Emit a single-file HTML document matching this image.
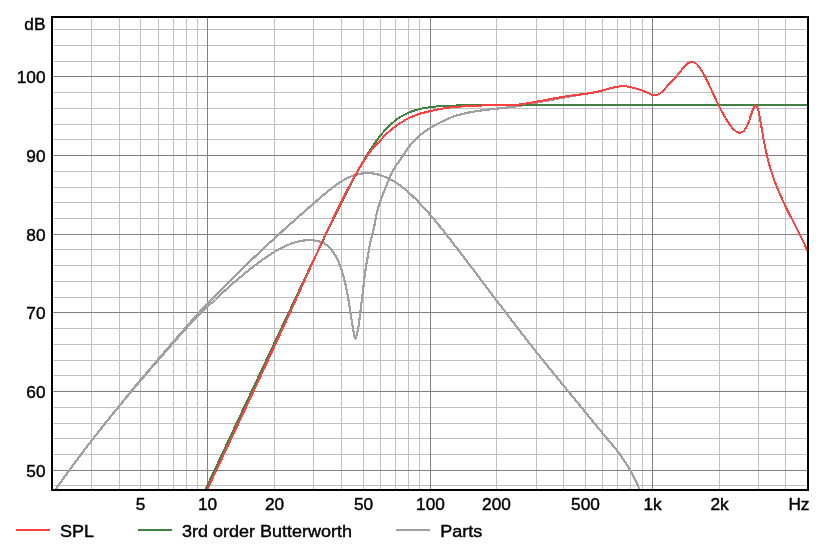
<!DOCTYPE html>
<html lang="en">
<head>
<meta charset="utf-8">
<title>SPL</title>
<style>
html,body{margin:0;padding:0;background:#fff;}
body{width:825px;height:557px;overflow:hidden;}
svg{display:block;}
text{font-family:"Liberation Sans",Arial,Helvetica,sans-serif;font-size:18px;fill:#000;stroke:#000;stroke-width:0.45px;}
</style>
</head>
<body>
<svg width="825" height="557" viewBox="0 0 825 557">
<rect x="0" y="0" width="825" height="557" fill="#fff"/>
<g shape-rendering="crispEdges">
<rect x="91" y="18" width="1" height="471" fill="#c0c0c0"/>
<rect x="119" y="18" width="1" height="471" fill="#c0c0c0"/>
<rect x="140" y="18" width="1" height="471" fill="#c0c0c0"/>
<rect x="158" y="18" width="1" height="471" fill="#c0c0c0"/>
<rect x="173" y="18" width="1" height="471" fill="#c0c0c0"/>
<rect x="186" y="18" width="1" height="471" fill="#c0c0c0"/>
<rect x="197" y="18" width="1" height="471" fill="#c0c0c0"/>
<rect x="274" y="18" width="1" height="471" fill="#c0c0c0"/>
<rect x="313" y="18" width="1" height="471" fill="#c0c0c0"/>
<rect x="341" y="18" width="1" height="471" fill="#c0c0c0"/>
<rect x="363" y="18" width="1" height="471" fill="#c0c0c0"/>
<rect x="380" y="18" width="1" height="471" fill="#c0c0c0"/>
<rect x="395" y="18" width="1" height="471" fill="#c0c0c0"/>
<rect x="408" y="18" width="1" height="471" fill="#c0c0c0"/>
<rect x="419" y="18" width="1" height="471" fill="#c0c0c0"/>
<rect x="496" y="18" width="1" height="471" fill="#c0c0c0"/>
<rect x="536" y="18" width="1" height="471" fill="#c0c0c0"/>
<rect x="563" y="18" width="1" height="471" fill="#c0c0c0"/>
<rect x="585" y="18" width="1" height="471" fill="#c0c0c0"/>
<rect x="602" y="18" width="1" height="471" fill="#c0c0c0"/>
<rect x="617" y="18" width="1" height="471" fill="#c0c0c0"/>
<rect x="630" y="18" width="1" height="471" fill="#c0c0c0"/>
<rect x="642" y="18" width="1" height="471" fill="#c0c0c0"/>
<rect x="719" y="18" width="1" height="471" fill="#c0c0c0"/>
<rect x="758" y="18" width="1" height="471" fill="#c0c0c0"/>
<rect x="785" y="18" width="1" height="471" fill="#c0c0c0"/>
<rect x="53" y="485" width="754" height="1" fill="#c0c0c0"/>
<rect x="53" y="454" width="754" height="1" fill="#c0c0c0"/>
<rect x="53" y="438" width="754" height="1" fill="#c0c0c0"/>
<rect x="53" y="423" width="754" height="1" fill="#c0c0c0"/>
<rect x="53" y="407" width="754" height="1" fill="#c0c0c0"/>
<rect x="53" y="375" width="754" height="1" fill="#c0c0c0"/>
<rect x="53" y="360" width="754" height="1" fill="#c0c0c0"/>
<rect x="53" y="344" width="754" height="1" fill="#c0c0c0"/>
<rect x="53" y="328" width="754" height="1" fill="#c0c0c0"/>
<rect x="53" y="297" width="754" height="1" fill="#c0c0c0"/>
<rect x="53" y="281" width="754" height="1" fill="#c0c0c0"/>
<rect x="53" y="265" width="754" height="1" fill="#c0c0c0"/>
<rect x="53" y="249" width="754" height="1" fill="#c0c0c0"/>
<rect x="53" y="218" width="754" height="1" fill="#c0c0c0"/>
<rect x="53" y="202" width="754" height="1" fill="#c0c0c0"/>
<rect x="53" y="187" width="754" height="1" fill="#c0c0c0"/>
<rect x="53" y="171" width="754" height="1" fill="#c0c0c0"/>
<rect x="53" y="139" width="754" height="1" fill="#c0c0c0"/>
<rect x="53" y="124" width="754" height="1" fill="#c0c0c0"/>
<rect x="53" y="108" width="754" height="1" fill="#c0c0c0"/>
<rect x="53" y="92" width="754" height="1" fill="#c0c0c0"/>
<rect x="53" y="61" width="754" height="1" fill="#c0c0c0"/>
<rect x="53" y="45" width="754" height="1" fill="#c0c0c0"/>
<rect x="53" y="29" width="754" height="1" fill="#c0c0c0"/>
<rect x="207" y="18" width="1" height="471" fill="#808080"/>
<rect x="430" y="18" width="1" height="471" fill="#808080"/>
<rect x="652" y="18" width="1" height="471" fill="#808080"/>
<rect x="53" y="470" width="754" height="1" fill="#808080"/>
<rect x="53" y="391" width="754" height="1" fill="#808080"/>
<rect x="53" y="312" width="754" height="1" fill="#808080"/>
<rect x="53" y="234" width="754" height="1" fill="#808080"/>
<rect x="53" y="155" width="754" height="1" fill="#808080"/>
<rect x="53" y="76" width="754" height="1" fill="#808080"/>
</g>
<svg x="52" y="17" width="756" height="473" viewBox="52 17 756 473" overflow="hidden" shape-rendering="crispEdges">
<polyline points="52.0,494.5 53.0,493.1 54.0,491.7 55.0,490.3 56.0,488.8 57.0,487.4 58.0,486.0 59.0,484.6 60.0,483.2 61.0,481.8 62.0,480.4 63.0,479.0 64.0,477.6 65.0,476.3 66.0,474.9 67.0,473.5 68.0,472.1 69.0,470.8 70.0,469.4 71.0,468.0 72.0,466.7 73.0,465.3 74.0,464.0 75.0,462.6 76.0,461.3 77.0,459.9 78.0,458.6 79.0,457.3 80.0,455.9 81.0,454.6 82.0,453.2 83.0,451.9 84.0,450.6 85.0,449.3 86.0,447.9 87.0,446.6 88.0,445.3 89.0,444.0 90.0,442.7 91.0,441.4 92.0,440.1 93.0,438.8 94.0,437.5 95.0,436.3 96.0,435.0 97.0,433.7 98.0,432.4 99.0,431.1 100.0,429.9 101.0,428.6 102.0,427.4 103.0,426.1 104.0,424.8 105.0,423.6 106.0,422.3 107.0,421.1 108.0,419.8 109.0,418.6 110.0,417.3 111.0,416.1 112.0,414.9 113.0,413.6 114.0,412.4 115.0,411.2 116.0,409.9 117.0,408.7 118.0,407.5 119.0,406.2 120.0,405.0 121.0,403.8 122.0,402.6 123.0,401.3 124.0,400.1 125.0,398.9 126.0,397.6 127.0,396.4 128.0,395.2 129.0,394.0 130.0,392.7 131.0,391.5 132.0,390.3 133.0,389.1 134.0,387.8 135.0,386.6 136.0,385.4 137.0,384.2 138.0,383.0 139.0,381.8 140.0,380.6 141.0,379.4 142.0,378.2 143.0,377.1 144.0,375.9 145.0,374.7 146.0,373.5 147.0,372.3 148.0,371.2 149.0,370.0 150.0,368.8 151.0,367.7 152.0,366.5 153.0,365.3 154.0,364.2 155.0,363.0 156.0,361.8 157.0,360.7 158.0,359.5 159.0,358.3 160.0,357.2 161.0,356.0 162.0,354.9 163.0,353.7 164.0,352.5 165.0,351.4 166.0,350.2 167.0,349.1 168.0,347.9 169.0,346.8 170.0,345.6 171.0,344.5 172.0,343.3 173.0,342.2 174.0,341.0 175.0,339.9 176.0,338.7 177.0,337.6 178.0,336.4 179.0,335.3 180.0,334.1 181.0,333.0 182.0,331.9 183.0,330.7 184.0,329.6 185.0,328.5 186.0,327.3 187.0,326.2 188.0,325.1 189.0,323.9 190.0,322.8 191.0,321.6 192.0,320.5 193.0,319.4 194.0,318.2 195.0,317.1 196.0,316.0 197.0,314.9 198.0,313.8 199.0,312.7 200.0,311.6 201.0,310.5 202.0,309.5 203.0,308.4 204.0,307.3 205.0,306.3 206.0,305.2 207.0,304.2 208.0,303.1 209.0,302.1 210.0,301.1 211.0,300.0 212.0,299.0 213.0,298.0 214.0,297.0 215.0,296.0 216.0,295.1 217.0,294.1 218.0,293.1 219.0,292.1 220.0,291.1 221.0,290.1 222.0,289.1 223.0,288.1 224.0,287.2 225.0,286.2 226.0,285.2 227.0,284.2 228.0,283.2 229.0,282.2 230.0,281.2 231.0,280.2 232.0,279.2 233.0,278.2 234.0,277.2 235.0,276.1 236.0,275.1 237.0,274.1 238.0,273.1 239.0,272.1 240.0,271.1 241.0,270.1 242.0,269.2 243.0,268.2 244.0,267.2 245.0,266.2 246.0,265.2 247.0,264.2 248.0,263.3 249.0,262.3 250.0,261.3 251.0,260.4 252.0,259.4 253.0,258.4 254.0,257.5 255.0,256.5 256.0,255.6 257.0,254.6 258.0,253.7 259.0,252.7 260.0,251.8 261.0,250.8 262.0,249.9 263.0,248.9 264.0,248.0 265.0,247.1 266.0,246.1 267.0,245.2 268.0,244.3 269.0,243.3 270.0,242.4 271.0,241.5 272.0,240.6 273.0,239.7 274.0,238.7 275.0,237.8 276.0,236.9 277.0,236.0 278.0,235.1 279.0,234.2 280.0,233.3 281.0,232.4 282.0,231.5 283.0,230.5 284.0,229.6 285.0,228.7 286.0,227.8 287.0,226.9 288.0,226.1 289.0,225.2 290.0,224.3 291.0,223.4 292.0,222.5 293.0,221.6 294.0,220.7 295.0,219.8 296.0,218.9 297.0,218.0 298.0,217.2 299.0,216.3 300.0,215.4 301.0,214.5 302.0,213.6 303.0,212.8 304.0,211.9 305.0,211.0 306.0,210.1 307.0,209.2 308.0,208.4 309.0,207.5 310.0,206.6 311.0,205.7 312.0,204.9 313.0,204.0 314.0,203.1 315.0,202.3 316.0,201.4 317.0,200.5 318.0,199.7 319.0,198.8 320.0,197.9 321.0,197.1 322.0,196.2 323.0,195.4 324.0,194.5 325.0,193.7 326.0,192.9 327.0,192.1 328.0,191.3 329.0,190.5 330.0,189.7 331.0,188.9 332.0,188.1 333.0,187.3 334.0,186.6 335.0,185.9 336.0,185.1 337.0,184.4 338.0,183.7 339.0,183.0 340.0,182.4 341.0,181.7 342.0,181.1 343.0,180.5 344.0,179.9 345.0,179.3 346.0,178.8 347.0,178.2 348.0,177.7 349.0,177.3 350.0,176.9 351.0,176.5 352.0,176.1 353.0,175.7 354.0,175.4 355.0,175.1 356.0,174.8 357.0,174.6 358.0,174.3 359.0,174.1 360.0,173.8 361.0,173.7 362.0,173.5 363.0,173.4 364.0,173.3 365.0,173.2 366.0,173.2 367.0,173.1 368.0,173.1 369.0,173.2 370.0,173.2 371.0,173.3 372.0,173.4 373.0,173.5 374.0,173.7 375.0,173.9 376.0,174.1 377.0,174.3 378.0,174.5 379.0,174.8 380.0,175.1 381.0,175.4 382.0,175.7 383.0,176.1 384.0,176.5 385.0,176.9 386.0,177.3 387.0,177.7 388.0,178.2 389.0,178.6 390.0,179.1 391.0,179.6 392.0,180.2 393.0,180.7 394.0,181.3 395.0,181.8 396.0,182.5 397.0,183.2 398.0,183.9 399.0,184.6 400.0,185.4 401.0,186.1 402.0,186.9 403.0,187.7 404.0,188.5 405.0,189.3 406.0,190.2 407.0,191.0 408.0,191.9 409.0,192.8 410.0,193.7 411.0,194.6 412.0,195.5 413.0,196.5 414.0,197.5 415.0,198.4 416.0,199.4 417.0,200.4 418.0,201.5 419.0,202.5 420.0,203.5 421.0,204.6 422.0,205.7 423.0,206.7 424.0,207.8 425.0,208.9 426.0,210.0 427.0,211.2 428.0,212.3 429.0,213.4 430.0,214.6 431.0,215.8 432.0,216.9 433.0,218.1 434.0,219.3 435.0,220.5 436.0,221.7 437.0,222.9 438.0,224.1 439.0,225.4 440.0,226.6 441.0,227.8 442.0,229.1 443.0,230.3 444.0,231.6 445.0,232.9 446.0,234.1 447.0,235.4 448.0,236.7 449.0,237.9 450.0,239.2 451.0,240.5 452.0,241.8 453.0,243.1 454.0,244.4 455.0,245.7 456.0,247.0 457.0,248.3 458.0,249.6 459.0,250.9 460.0,252.2 461.0,253.5 462.0,254.9 463.0,256.2 464.0,257.5 465.0,258.8 466.0,260.1 467.0,261.4 468.0,262.7 469.0,264.1 470.0,265.4 471.0,266.7 472.0,268.0 473.0,269.3 474.0,270.6 475.0,272.0 476.0,273.3 477.0,274.6 478.0,275.9 479.0,277.3 480.0,278.6 481.0,279.9 482.0,281.2 483.0,282.5 484.0,283.9 485.0,285.2 486.0,286.5 487.0,287.8 488.0,289.2 489.0,290.5 490.0,291.8 491.0,293.1 492.0,294.4 493.0,295.8 494.0,297.1 495.0,298.4 496.0,299.7 497.0,301.1 498.0,302.4 499.0,303.7 500.0,305.0 501.0,306.3 502.0,307.6 503.0,309.0 504.0,310.3 505.0,311.6 506.0,312.9 507.0,314.2 508.0,315.5 509.0,316.8 510.0,318.1 511.0,319.4 512.0,320.7 513.0,322.0 514.0,323.3 515.0,324.6 516.0,325.9 517.0,327.2 518.0,328.5 519.0,329.8 520.0,331.1 521.0,332.4 522.0,333.7 523.0,335.0 524.0,336.3 525.0,337.6 526.0,338.9 527.0,340.1 528.0,341.4 529.0,342.7 530.0,344.0 531.0,345.2 532.0,346.5 533.0,347.8 534.0,349.0 535.0,350.3 536.0,351.6 537.0,352.8 538.0,354.1 539.0,355.3 540.0,356.6 541.0,357.8 542.0,359.1 543.0,360.3 544.0,361.5 545.0,362.8 546.0,364.0 547.0,365.3 548.0,366.5 549.0,367.7 550.0,369.0 551.0,370.2 552.0,371.4 553.0,372.6 554.0,373.9 555.0,375.1 556.0,376.3 557.0,377.5 558.0,378.8 559.0,380.0 560.0,381.2 561.0,382.4 562.0,383.7 563.0,384.9 564.0,386.1 565.0,387.3 566.0,388.5 567.0,389.8 568.0,391.0 569.0,392.2 570.0,393.4 571.0,394.6 572.0,395.8 573.0,397.1 574.0,398.3 575.0,399.5 576.0,400.7 577.0,402.0 578.0,403.2 579.0,404.4 580.0,405.6 581.0,406.9 582.0,408.1 583.0,409.3 584.0,410.5 585.0,411.8 586.0,413.0 587.0,414.2 588.0,415.5 589.0,416.7 590.0,417.9 591.0,419.2 592.0,420.4 593.0,421.6 594.0,422.8 595.0,424.0 596.0,425.3 597.0,426.5 598.0,427.7 599.0,428.9 600.0,430.1 601.0,431.3 602.0,432.5 603.0,433.7 604.0,434.8 605.0,436.0 606.0,437.2 607.0,438.4 608.0,439.6 609.0,440.8 610.0,442.0 611.0,443.2 612.0,444.4 613.0,445.6 614.0,446.8 615.0,448.1 616.0,449.3 617.0,450.6 618.0,451.9 619.0,453.2 620.0,454.6 621.0,456.0 622.0,457.4 623.0,458.8 624.0,460.3 625.0,461.8 626.0,463.4 627.0,465.0 628.0,466.6 629.0,468.3 630.0,470.0 631.0,471.8 632.0,473.6 633.0,475.5 634.0,477.4 635.0,479.4 636.0,481.5 637.0,483.6 638.0,485.8 639.0,488.1 640.0,490.4 641.0,492.8 642.0,495.3" fill="none" stroke="#a0a0a0" stroke-width="2.2" stroke-linejoin="round"/>
<polyline points="52.0,494.5 52.5,493.8 53.0,493.1 53.5,492.4 54.0,491.7 54.5,491.0 55.0,490.3 55.5,489.5 56.0,488.8 56.5,488.1 57.0,487.4 57.5,486.7 58.0,486.0 58.5,485.3 59.0,484.6 59.5,483.9 60.0,483.2 60.5,482.5 61.0,481.8 61.5,481.1 62.0,480.4 62.5,479.7 63.0,479.0 63.5,478.3 64.0,477.6 64.5,476.9 65.0,476.3 65.5,475.6 66.0,474.9 66.5,474.2 67.0,473.5 67.5,472.8 68.0,472.1 68.5,471.5 69.0,470.8 69.5,470.1 70.0,469.4 70.5,468.7 71.0,468.0 71.5,467.4 72.0,466.7 72.5,466.0 73.0,465.3 73.5,464.7 74.0,464.0 74.5,463.3 75.0,462.6 75.5,462.0 76.0,461.3 76.5,460.6 77.0,459.9 77.5,459.3 78.0,458.6 78.5,457.9 79.0,457.3 79.5,456.6 80.0,455.9 80.5,455.2 81.0,454.6 81.5,453.9 82.0,453.2 82.5,452.6 83.0,451.9 83.5,451.3 84.0,450.6 84.5,449.9 85.0,449.3 85.5,448.6 86.0,447.9 86.5,447.3 87.0,446.6 87.5,446.0 88.0,445.3 88.5,444.7 89.0,444.0 89.5,443.4 90.0,442.7 90.5,442.1 91.0,441.4 91.5,440.8 92.0,440.1 92.5,439.5 93.0,438.8 93.5,438.2 94.0,437.5 94.5,436.9 95.0,436.3 95.5,435.6 96.0,435.0 96.5,434.3 97.0,433.7 97.5,433.1 98.0,432.4 98.5,431.8 99.0,431.1 99.5,430.5 100.0,429.9 100.5,429.2 101.0,428.6 101.5,428.0 102.0,427.4 102.5,426.7 103.0,426.1 103.5,425.5 104.0,424.8 104.5,424.2 105.0,423.6 105.5,423.0 106.0,422.3 106.5,421.7 107.0,421.1 107.5,420.5 108.0,419.8 108.5,419.2 109.0,418.6 109.5,418.0 110.0,417.4 110.5,416.7 111.0,416.1 111.5,415.5 112.0,414.9 112.5,414.3 113.0,413.7 113.5,413.1 114.0,412.4 114.5,411.8 115.0,411.2 115.5,410.6 116.0,410.0 116.5,409.4 117.0,408.8 117.5,408.2 118.0,407.6 118.5,407.0 119.0,406.4 119.5,405.8 120.0,405.2 120.5,404.6 121.0,403.9 121.5,403.3 122.0,402.7 122.5,402.1 123.0,401.5 123.5,400.9 124.0,400.3 124.5,399.7 125.0,399.1 125.5,398.5 126.0,397.9 126.5,397.3 127.0,396.7 127.5,396.1 128.0,395.5 128.5,394.8 129.0,394.2 129.5,393.6 130.0,393.0 130.5,392.4 131.0,391.8 131.5,391.2 132.0,390.6 132.5,390.0 133.0,389.4 133.5,388.8 134.0,388.2 134.5,387.6 135.0,387.0 135.5,386.4 136.0,385.8 136.5,385.2 137.0,384.6 137.5,384.0 138.0,383.4 138.5,382.8 139.0,382.3 139.5,381.7 140.0,381.1 140.5,380.5 141.0,379.9 141.5,379.3 142.0,378.7 142.5,378.1 143.0,377.6 143.5,377.0 144.0,376.4 144.5,375.8 145.0,375.2 145.5,374.7 146.0,374.1 146.5,373.5 147.0,372.9 147.5,372.3 148.0,371.8 148.5,371.2 149.0,370.6 149.5,370.0 150.0,369.5 150.5,368.9 151.0,368.3 151.5,367.7 152.0,367.1 152.5,366.6 153.0,366.0 153.5,365.4 154.0,364.9 154.5,364.3 155.0,363.7 155.5,363.1 156.0,362.6 156.5,362.0 157.0,361.4 157.5,360.8 158.0,360.3 158.5,359.7 159.0,359.1 159.5,358.5 160.0,358.0 160.5,357.4 161.0,356.8 161.5,356.3 162.0,355.7 162.5,355.1 163.0,354.5 163.5,354.0 164.0,353.4 164.5,352.8 165.0,352.3 165.5,351.7 166.0,351.1 166.5,350.5 167.0,350.0 167.5,349.4 168.0,348.8 168.5,348.3 169.0,347.7 169.5,347.1 170.0,346.6 170.5,346.0 171.0,345.4 171.5,344.8 172.0,344.3 172.5,343.7 173.0,343.1 173.5,342.6 174.0,342.0 174.5,341.4 175.0,340.9 175.5,340.3 176.0,339.8 176.5,339.2 177.0,338.6 177.5,338.1 178.0,337.5 178.5,336.9 179.0,336.4 179.5,335.8 180.0,335.2 180.5,334.7 181.0,334.1 181.5,333.6 182.0,333.0 182.5,332.5 183.0,331.9 183.5,331.3 184.0,330.8 184.5,330.2 185.0,329.7 185.5,329.1 186.0,328.6 186.5,328.0 187.0,327.4 187.5,326.9 188.0,326.3 188.5,325.8 189.0,325.2 189.5,324.7 190.0,324.1 190.5,323.6 191.0,323.0 191.5,322.5 192.0,321.9 192.5,321.4 193.0,320.8 193.5,320.3 194.0,319.7 194.5,319.2 195.0,318.6 195.5,318.1 196.0,317.5 196.5,317.1 197.0,316.6 197.5,316.1 198.0,315.6 198.5,315.1 199.0,314.6 199.5,314.1 200.0,313.6 200.5,313.2 201.0,312.7 201.5,312.2 202.0,311.7 202.5,311.3 203.0,310.8 203.5,310.3 204.0,309.9 204.5,309.4 205.0,309.0 205.5,308.5 206.0,308.0 206.5,307.6 207.0,307.1 207.5,306.7 208.0,306.2 208.5,305.8 209.0,305.3 209.5,304.9 210.0,304.4 210.5,303.9 211.0,303.5 211.5,303.1 212.0,302.6 212.5,302.2 213.0,301.7 213.5,301.3 214.0,300.9 214.5,300.4 215.0,299.9 215.5,299.5 216.0,299.0 216.5,298.5 217.0,298.0 217.5,297.6 218.0,297.1 218.5,296.6 219.0,296.2 219.5,295.7 220.0,295.2 220.5,294.7 221.0,294.3 221.5,293.8 222.0,293.3 222.5,292.8 223.0,292.4 223.5,291.9 224.0,291.4 224.5,291.0 225.0,290.5 225.5,290.1 226.0,289.6 226.5,289.1 227.0,288.7 227.5,288.2 228.0,287.8 228.5,287.3 229.0,286.9 229.5,286.4 230.0,286.0 230.5,285.6 231.0,285.1 231.5,284.7 232.0,284.2 232.5,283.8 233.0,283.4 233.5,282.9 234.0,282.5 234.5,282.1 235.0,281.7 235.5,281.2 236.0,280.8 236.5,280.4 237.0,280.0 237.5,279.5 238.0,279.1 238.5,278.7 239.0,278.3 239.5,277.9 240.0,277.5 240.5,277.0 241.0,276.6 241.5,276.2 242.0,275.8 242.5,275.4 243.0,275.0 243.5,274.6 244.0,274.2 244.5,273.8 245.0,273.3 245.5,272.9 246.0,272.5 246.5,272.1 247.0,271.7 247.5,271.3 248.0,270.9 248.5,270.5 249.0,270.1 249.5,269.7 250.0,269.3 250.5,268.9 251.0,268.5 251.5,268.1 252.0,267.7 252.5,267.4 253.0,267.0 253.5,266.6 254.0,266.2 254.5,265.8 255.0,265.4 255.5,265.0 256.0,264.6 256.5,264.3 257.0,263.9 257.5,263.5 258.0,263.1 258.5,262.7 259.0,262.4 259.5,262.0 260.0,261.6 260.5,261.3 261.0,260.9 261.5,260.5 262.0,260.2 262.5,259.8 263.0,259.4 263.5,259.1 264.0,258.7 264.5,258.4 265.0,258.0 265.5,257.7 266.0,257.3 266.5,257.0 267.0,256.6 267.5,256.3 268.0,256.0 268.5,255.6 269.0,255.3 269.5,255.0 270.0,254.6 270.5,254.3 271.0,254.0 271.5,253.7 272.0,253.4 272.5,253.0 273.0,252.7 273.5,252.4 274.0,252.1 274.5,251.8 275.0,251.5 275.5,251.2 276.0,250.9 276.5,250.6 277.0,250.3 277.5,250.1 278.0,249.8 278.5,249.5 279.0,249.2 279.5,249.0 280.0,248.7 280.5,248.4 281.0,248.2 281.5,247.9 282.0,247.6 282.5,247.4 283.0,247.1 283.5,246.9 284.0,246.7 284.5,246.4 285.0,246.2 285.5,246.0 286.0,245.7 286.5,245.5 287.0,245.3 287.5,245.1 288.0,244.9 288.5,244.7 289.0,244.5 289.5,244.3 290.0,244.1 290.5,243.9 291.0,243.7 291.5,243.5 292.0,243.3 292.5,243.2 293.0,243.0 293.5,242.8 294.0,242.7 294.5,242.5 295.0,242.4 295.5,242.2 296.0,242.1 296.5,241.9 297.0,241.8 297.5,241.7 298.0,241.5 298.5,241.4 299.0,241.3 299.5,241.2 300.0,241.1 300.5,241.0 301.0,240.9 301.5,240.8 302.0,240.7 302.5,240.7 303.0,240.6 303.5,240.5 304.0,240.5 304.5,240.4 305.0,240.4 305.5,240.3 306.0,240.3 306.5,240.3 307.0,240.2 307.5,240.2 308.0,240.2 308.5,240.2 309.0,240.2 309.5,240.2 310.0,240.2 310.5,240.2 311.0,240.2 311.5,240.2 312.0,240.3 312.5,240.3 313.0,240.3 313.5,240.4 314.0,240.5 314.5,240.5 315.0,240.6 315.5,240.7 316.0,240.7 316.5,240.8 317.0,240.9 317.5,241.0 318.0,241.1 318.5,241.2 319.0,241.4 319.5,241.5 320.0,241.7 320.5,241.8 321.0,242.0 321.5,242.2 322.0,242.4 322.5,242.6 323.0,242.8 323.5,243.1 324.0,243.3 324.5,243.6 325.0,243.9 325.5,244.2 326.0,244.6 326.5,244.9 327.0,245.3 327.5,245.7 328.0,246.1 328.5,246.6 329.0,247.0 329.5,247.5 330.0,248.1 330.5,248.6 331.0,249.2 331.5,249.8 332.0,250.4 332.5,251.1 333.0,251.8 333.5,252.5 334.0,253.3 334.5,254.1 335.0,254.9 335.5,255.8 336.0,256.7 336.5,257.6 337.0,258.6 337.5,259.6 338.0,260.7 338.5,261.8 339.0,262.9 339.5,264.2 340.0,265.4 340.5,266.8 341.0,268.2 341.5,269.8 342.0,271.4 342.5,273.1 343.0,274.8 343.5,276.7 344.0,278.7 344.5,280.7 345.0,282.7 345.5,284.9 346.0,287.1 346.5,289.3 347.0,291.8 347.5,294.3 348.0,297.1 348.5,300.0 349.0,303.1 349.5,306.4 350.0,309.7 350.5,313.0 351.0,316.3 351.5,319.5 352.0,322.6 352.5,325.5 353.0,328.3 353.5,331.1 354.0,333.7 354.5,336.2 355.0,338.2 355.5,338.8 356.0,337.6 356.5,335.5 357.0,333.5 357.5,331.7 358.0,329.5 358.5,326.6 359.0,322.9 359.5,319.0 360.0,314.9 360.5,310.8 361.0,306.5 361.5,302.4 362.0,298.4 362.5,294.6 363.0,290.7 363.5,286.2 364.0,281.4 364.5,277.2 365.0,273.4 365.5,269.9 366.0,266.7 366.5,263.6 367.0,260.7 367.5,257.9 368.0,255.2 368.5,252.4 369.0,249.6 369.5,246.8 370.0,244.1 370.5,241.6 371.0,239.4 371.5,237.5 372.0,235.7 372.5,233.9 373.0,231.9 373.5,229.8 374.0,227.5 374.5,225.0 375.0,222.4 375.5,219.8 376.0,217.2 376.5,214.7 377.0,212.3 377.5,210.2 378.0,208.3 378.5,206.5 379.0,204.9 379.5,203.4 380.0,202.0 380.5,200.6 381.0,199.2 381.5,197.9 382.0,196.6 382.5,195.2 383.0,193.9 383.5,192.7 384.0,191.4 384.5,190.1 385.0,188.9 385.5,187.6 386.0,186.4 386.5,185.1 387.0,183.9 387.5,182.7 388.0,181.5 388.5,180.4 389.0,179.2 389.5,178.1 390.0,177.0 390.5,175.9 391.0,174.8 391.5,173.8 392.0,172.8 392.5,171.8 393.0,170.9 393.5,169.9 394.0,169.0 394.5,168.2 395.0,167.3 395.5,166.4 396.0,165.6 396.5,164.9 397.0,164.2 397.5,163.5 398.0,162.8 398.5,162.1 399.0,161.4 399.5,160.7 400.0,160.0 400.5,159.2 401.0,158.4 401.5,157.6 402.0,156.8 402.5,156.1 403.0,155.3 403.5,154.6 404.0,153.8 404.5,153.1 405.0,152.4 405.5,151.6 406.0,150.9 406.5,150.2 407.0,149.4 407.5,148.7 408.0,148.0 408.5,147.4 409.0,146.7 409.5,146.1 410.0,145.5 410.5,144.8 411.0,144.2 411.5,143.6 412.0,143.0 412.5,142.5 413.0,141.9 413.5,141.4 414.0,140.8 414.5,140.3 415.0,139.8 415.5,139.3 416.0,138.9 416.5,138.4 417.0,138.0 417.5,137.5 418.0,137.1 418.5,136.6 419.0,136.2 419.5,135.8 420.0,135.4 420.5,134.9 421.0,134.5 421.5,134.1 422.0,133.7 422.5,133.3 423.0,132.9 423.5,132.6 424.0,132.2 424.5,131.8 425.0,131.4 425.5,131.1 426.0,130.7 426.5,130.4 427.0,130.0 427.5,129.7 428.0,129.4 428.5,129.0 429.0,128.7 429.5,128.4 430.0,128.1 430.5,127.8 431.0,127.4 431.5,127.1 432.0,126.8 432.5,126.5 433.0,126.2 433.5,126.0 434.0,125.7 434.5,125.4 435.0,125.1 435.5,124.8 436.0,124.6 436.5,124.3 437.0,124.0 437.5,123.8 438.0,123.5 438.5,123.3 439.0,123.0 439.5,122.8 440.0,122.5 440.5,122.3 441.0,122.1 441.5,121.8 442.0,121.6 442.5,121.3 443.0,121.1 443.5,120.8 444.0,120.6 444.5,120.4 445.0,120.1 445.5,119.9 446.0,119.7 446.5,119.4 447.0,119.2 447.5,119.0 448.0,118.8 448.5,118.5 449.0,118.3 449.5,118.1 450.0,117.9 450.5,117.7 451.0,117.5 451.5,117.3 452.0,117.1 452.5,116.9 453.0,116.8 453.5,116.6 454.0,116.4 454.5,116.3 455.0,116.1 455.5,115.9 456.0,115.8 456.5,115.6 457.0,115.5 457.5,115.3 458.0,115.2 458.5,115.0 459.0,114.9 459.5,114.7 460.0,114.6 460.5,114.5 461.0,114.3 461.5,114.2 462.0,114.1 462.5,113.9 463.0,113.8 463.5,113.7 464.0,113.6 464.5,113.5 465.0,113.4 465.5,113.2 466.0,113.1 466.5,113.0 467.0,112.9 467.5,112.8 468.0,112.7 468.5,112.6 469.0,112.5 469.5,112.4 470.0,112.3 470.5,112.2 471.0,112.1 471.5,112.0 472.0,111.9 472.5,111.8 473.0,111.7 473.5,111.6 474.0,111.6 474.5,111.5 475.0,111.4 475.5,111.3 476.0,111.2 476.5,111.1 477.0,111.1 477.5,111.0 478.0,110.9 478.5,110.8 479.0,110.8 479.5,110.7 480.0,110.6 480.5,110.6 481.0,110.5 481.5,110.4 482.0,110.3 482.5,110.3 483.0,110.2 483.5,110.1 484.0,110.1 484.5,110.0 485.0,109.9 485.5,109.9 486.0,109.8 486.5,109.8 487.0,109.7 487.5,109.6 488.0,109.6 488.5,109.5 489.0,109.5 489.5,109.4 490.0,109.3 490.5,109.3 491.0,109.2 491.5,109.2 492.0,109.1 492.5,109.1 493.0,109.0 493.5,109.0 494.0,108.9 494.5,108.8 495.0,108.8 495.5,108.7 496.0,108.7 496.5,108.6 497.0,108.6 497.5,108.5 498.0,108.5 498.5,108.4 499.0,108.3 499.5,108.3 500.0,108.2 500.5,108.2 501.0,108.1 501.5,108.1 502.0,108.0 502.5,108.0 503.0,107.9 503.5,107.9 504.0,107.8 504.5,107.8 505.0,107.7 505.5,107.6 506.0,107.6 506.5,107.5 507.0,107.5 507.5,107.4 508.0,107.4 508.5,107.3 509.0,107.2 509.5,107.2 510.0,107.1 510.5,107.1 511.0,107.0 511.5,106.9 512.0,106.9 512.5,106.8 513.0,106.7 513.5,106.7 514.0,106.6 514.5,106.5 515.0,106.4 515.5,106.4 516.0,106.3 516.5,106.2 517.0,106.1 517.5,106.1 518.0,106.0 518.5,105.9 519.0,105.8 519.5,105.7 520.0,105.7 520.5,105.6 521.0,105.5 521.5,105.4 522.0,105.3 522.5,105.2 523.0,105.1 523.5,105.0 524.0,104.9 524.5,104.8 525.0,104.7 525.5,104.6 526.0,104.5 526.5,104.4 527.0,104.3 527.5,104.2 528.0,104.1 529.0,103.9 530.0,103.7 531.0,103.6 532.0,103.4 533.0,103.2 534.0,103.1 535.0,102.9 536.0,102.7 537.0,102.5 538.0,102.3 539.0,102.2 540.0,102.0 541.0,101.8 542.0,101.6 543.0,101.4 544.0,101.2 545.0,101.0 546.0,100.9 547.0,100.7 548.0,100.5 549.0,100.3 550.0,100.1 551.0,99.9 552.0,99.7 553.0,99.5 554.0,99.3 555.0,99.2 556.0,99.0 557.0,98.8 558.0,98.6 559.0,98.4 560.0,98.3 561.0,98.1 562.0,97.9 563.0,97.8 564.0,97.6 565.0,97.4 566.0,97.3 567.0,97.1 568.0,96.9 569.0,96.7 570.0,96.5 571.0,96.2 572.0,96.1 573.0,95.9 574.0,95.7 575.0,95.5 576.0,95.3 577.0,95.1 578.0,94.9 579.0,94.7 580.0,94.5" fill="none" stroke="#a0a0a0" stroke-width="2.2" stroke-linejoin="round"/>
<polyline points="200.0,501.0 201.0,498.9 202.0,496.7 203.0,494.6 204.0,492.5 205.0,490.4 206.0,488.2 207.0,486.1 208.0,484.0 209.0,481.9 210.0,479.7 211.0,477.6 212.0,475.5 213.0,473.4 214.0,471.2 215.0,469.1 216.0,467.0 217.0,464.9 218.0,462.8 219.0,460.6 220.0,458.5 221.0,456.4 222.0,454.3 223.0,452.1 224.0,450.0 225.0,447.9 226.0,445.8 227.0,443.6 228.0,441.5 229.0,439.4 230.0,437.3 231.0,435.1 232.0,433.0 233.0,430.9 234.0,428.8 235.0,426.6 236.0,424.5 237.0,422.4 238.0,420.3 239.0,418.1 240.0,416.0 241.0,413.9 242.0,411.8 243.0,409.6 244.0,407.5 245.0,405.4 246.0,403.3 247.0,401.2 248.0,399.0 249.0,396.9 250.0,394.8 251.0,392.7 252.0,390.5 253.0,388.4 254.0,386.3 255.0,384.2 256.0,382.0 257.0,379.9 258.0,377.8 259.0,375.7 260.0,373.5 261.0,371.4 262.0,369.3 263.0,367.2 264.0,365.0 265.0,362.9 266.0,360.8 267.0,358.7 268.0,356.6 269.0,354.4 270.0,352.3 271.0,350.2 272.0,348.1 273.0,345.9 274.0,343.8 275.0,341.7 276.0,339.6 277.0,337.5 278.0,335.3 279.0,333.2 280.0,331.1 281.0,329.0 282.0,326.8 283.0,324.7 284.0,322.6 285.0,320.5 286.0,318.4 287.0,316.2 288.0,314.1 289.0,312.0 290.0,309.9 291.0,307.8 292.0,305.6 293.0,303.5 294.0,301.4 295.0,299.3 296.0,297.2 297.0,295.1 298.0,292.9 299.0,290.8 300.0,288.7 301.0,286.6 302.0,284.5 303.0,282.4 304.0,280.3 305.0,278.2 306.0,276.0 307.0,273.9 308.0,271.8 309.0,269.7 310.0,267.6 311.0,265.5 312.0,263.4 313.0,261.3 314.0,259.2 315.0,257.1 316.0,255.0 317.0,252.9 318.0,250.8 319.0,248.7 320.0,246.6 321.0,244.5 322.0,242.4 323.0,240.4 324.0,238.3 325.0,236.2 326.0,234.1 327.0,232.0 328.0,230.0 329.0,227.9 330.0,225.8 331.0,223.8 332.0,221.7 333.0,219.7 334.0,217.6 335.0,215.6 336.0,213.5 337.0,211.5 338.0,209.5 339.0,207.5 340.0,205.4 341.0,203.4 342.0,201.4 343.0,199.4 344.0,197.5 345.0,195.5 346.0,193.5 347.0,191.5 348.0,189.6 349.0,187.7 350.0,185.7 351.0,183.8 352.0,181.9 353.0,180.0 354.0,178.1 355.0,176.3 356.0,174.4 357.0,172.6 358.0,170.7 359.0,168.9 360.0,167.1 361.0,165.4 362.0,163.6 363.0,161.9 364.0,160.2 365.0,158.5 366.0,156.8 367.0,155.2 368.0,153.6 369.0,152.0 370.0,150.4 371.0,148.8 372.0,147.3 373.0,145.8 374.0,144.3 375.0,142.9 376.0,141.5 377.0,140.1 378.0,138.8 379.0,137.5 380.0,136.2 381.0,134.9 382.0,133.7 383.0,132.5 384.0,131.3 385.0,130.2 386.0,129.1 387.0,128.1 388.0,127.0 389.0,126.0 390.0,125.1 391.0,124.2 392.0,123.3 393.0,122.4 394.0,121.6 395.0,120.8 396.0,120.0 397.0,119.3 398.0,118.5 399.0,117.9 400.0,117.2 401.0,116.6 402.0,116.0 403.0,115.4 404.0,114.9 405.0,114.4 406.0,113.9 407.0,113.4 408.0,112.9 409.0,112.5 410.0,112.1 411.0,111.7 412.0,111.3 413.0,111.0 414.0,110.7 415.0,110.3 416.0,110.0 417.0,109.8 418.0,109.5 419.0,109.2 420.0,109.0 421.0,108.8 422.0,108.6 423.0,108.3 424.0,108.2 425.0,108.0 426.0,107.8 427.0,107.6 428.0,107.5 429.0,107.3 430.0,107.2 431.0,107.1 432.0,107.0 433.0,106.8 434.0,106.7 435.0,106.6 436.0,106.5 437.0,106.4 438.0,106.4 439.0,106.3 440.0,106.2 441.0,106.1 442.0,106.1 443.0,106.0 444.0,105.9 445.0,105.9 446.0,105.8 447.0,105.8 448.0,105.7 449.0,105.7 450.0,105.7 451.0,105.6 452.0,105.6 453.0,105.5 454.0,105.5 455.0,105.5 456.0,105.5 457.0,105.4 458.0,105.4 459.0,105.4 460.0,105.4 461.0,105.3 462.0,105.3 463.0,105.3 464.0,105.3 465.0,105.3 466.0,105.2 467.0,105.2 468.0,105.2 469.0,105.2 470.0,105.2 471.0,105.2 472.0,105.2 473.0,105.2 474.0,105.2 475.0,105.1 476.0,105.1 477.0,105.1 478.0,105.1 479.0,105.1 480.0,105.1 481.0,105.1 482.0,105.1 483.0,105.1 484.0,105.1 485.0,105.1 486.0,105.1 487.0,105.1 488.0,105.1 489.0,105.1 490.0,105.1 491.0,105.1 492.0,105.1 493.0,105.1 494.0,105.0 495.0,105.0 496.0,105.0 497.0,105.0 498.0,105.0 499.0,105.0 500.0,105.0 501.0,105.0 502.0,105.0 503.0,105.0 504.0,105.0 505.0,105.0 506.0,105.0 507.0,105.0 508.0,105.0 509.0,105.0 510.0,105.0 511.0,105.0 512.0,105.0 513.0,105.0 514.0,105.0 515.0,105.0 516.0,105.0 517.0,105.0 518.0,105.0 519.0,105.0 520.0,105.0 521.0,105.0 522.0,105.0 523.0,105.0 524.0,105.0 525.0,105.0 526.0,105.0 527.0,105.0 528.0,105.0 529.0,105.0 530.0,105.0 531.0,105.0 532.0,105.0 533.0,105.0 534.0,105.0 535.0,105.0 536.0,105.0 537.0,105.0 538.0,105.0 539.0,105.0 540.0,105.0 541.0,105.0 542.0,105.0 543.0,105.0 544.0,105.0 545.0,105.0 546.0,105.0 547.0,105.0 548.0,105.0 549.0,105.0 550.0,105.0 551.0,105.0 552.0,105.0 553.0,105.0 554.0,105.0 555.0,105.0 556.0,105.0 557.0,105.0 558.0,105.0 559.0,105.0 560.0,105.0 561.0,105.0 562.0,105.0 563.0,105.0 564.0,105.0 565.0,105.0 566.0,105.0 567.0,105.0 568.0,105.0 569.0,105.0 570.0,105.0 571.0,105.0 572.0,105.0 573.0,105.0 574.0,105.0 575.0,105.0 576.0,105.0 577.0,105.0 578.0,105.0 579.0,105.0 580.0,105.0 581.0,105.0 582.0,105.0 583.0,105.0 584.0,105.0 585.0,105.0 586.0,105.0 587.0,105.0 588.0,105.0 589.0,105.0 590.0,105.0 591.0,105.0 592.0,105.0 593.0,105.0 594.0,105.0 595.0,105.0 596.0,105.0 597.0,105.0 598.0,105.0 599.0,105.0 600.0,105.0 601.0,105.0 602.0,105.0 603.0,105.0 604.0,105.0 605.0,105.0 606.0,105.0 607.0,105.0 608.0,105.0 609.0,105.0 610.0,105.0 611.0,105.0 612.0,105.0 613.0,105.0 614.0,105.0 615.0,105.0 616.0,105.0 617.0,105.0 618.0,105.0 619.0,105.0 620.0,105.0 621.0,105.0 622.0,105.0 623.0,105.0 624.0,105.0 625.0,105.0 626.0,105.0 627.0,105.0 628.0,105.0 629.0,105.0 630.0,105.0 631.0,105.0 632.0,105.0 633.0,105.0 634.0,105.0 635.0,105.0 636.0,105.0 637.0,105.0 638.0,105.0 639.0,105.0 640.0,105.0 641.0,105.0 642.0,105.0 643.0,105.0 644.0,105.0 645.0,105.0 646.0,105.0 647.0,105.0 648.0,105.0 649.0,105.0 650.0,105.0 651.0,105.0 652.0,105.0 653.0,105.0 654.0,105.0 655.0,105.0 656.0,105.0 657.0,105.0 658.0,105.0 659.0,105.0 660.0,105.0 661.0,105.0 662.0,105.0 663.0,105.0 664.0,105.0 665.0,105.0 666.0,105.0 667.0,105.0 668.0,105.0 669.0,105.0 670.0,105.0 671.0,105.0 672.0,105.0 673.0,105.0 674.0,105.0 675.0,105.0 676.0,105.0 677.0,105.0 678.0,105.0 679.0,105.0 680.0,105.0 681.0,105.0 682.0,105.0 683.0,105.0 684.0,105.0 685.0,105.0 686.0,105.0 687.0,105.0 688.0,105.0 689.0,105.0 690.0,105.0 691.0,105.0 692.0,105.0 693.0,105.0 694.0,105.0 695.0,105.0 696.0,105.0 697.0,105.0 698.0,105.0 699.0,105.0 700.0,105.0 701.0,105.0 702.0,105.0 703.0,105.0 704.0,105.0 705.0,105.0 706.0,105.0 707.0,105.0 708.0,105.0 709.0,105.0 710.0,105.0 711.0,105.0 712.0,105.0 713.0,105.0 714.0,105.0 715.0,105.0 716.0,105.0 717.0,105.0 718.0,105.0 719.0,105.0 720.0,105.0 721.0,105.0 722.0,105.0 723.0,105.0 724.0,105.0 725.0,105.0 726.0,105.0 727.0,105.0 728.0,105.0 729.0,105.0 730.0,105.0 731.0,105.0 732.0,105.0 733.0,105.0 734.0,105.0 735.0,105.0 736.0,105.0 737.0,105.0 738.0,105.0 739.0,105.0 740.0,105.0 741.0,105.0 742.0,105.0 743.0,105.0 744.0,105.0 745.0,105.0 746.0,105.0 747.0,105.0 748.0,105.0 749.0,105.0 750.0,105.0 751.0,105.0 752.0,105.0 753.0,105.0 754.0,105.0 755.0,105.0 756.0,105.0 757.0,105.0 758.0,105.0 759.0,105.0 760.0,105.0 761.0,105.0 762.0,105.0 763.0,105.0 764.0,105.0 765.0,105.0 766.0,105.0 767.0,105.0 768.0,105.0 769.0,105.0 770.0,105.0 771.0,105.0 772.0,105.0 773.0,105.0 774.0,105.0 775.0,105.0 776.0,105.0 777.0,105.0 778.0,105.0 779.0,105.0 780.0,105.0 781.0,105.0 782.0,105.0 783.0,105.0 784.0,105.0 785.0,105.0 786.0,105.0 787.0,105.0 788.0,105.0 789.0,105.0 790.0,105.0 791.0,105.0 792.0,105.0 793.0,105.0 794.0,105.0 795.0,105.0 796.0,105.0 797.0,105.0 798.0,105.0 799.0,105.0 800.0,105.0 801.0,105.0 802.0,105.0 803.0,105.0 804.0,105.0 805.0,105.0 806.0,105.0 807.0,105.0 808.0,105.0" fill="none" stroke="#408040" stroke-width="2.0" stroke-linejoin="round"/>
<polyline points="203.0,498.6 204.0,496.5 205.0,494.4 206.0,492.2 207.0,490.1 208.0,488.0 209.0,485.9 210.0,483.7 211.0,481.6 212.0,479.5 213.0,477.4 214.0,475.2 215.0,473.1 216.0,471.0 217.0,468.9 218.0,466.8 219.0,464.6 220.0,462.5 221.0,460.4 222.0,458.3 223.0,456.1 224.0,454.0 225.0,451.9 226.0,449.8 227.0,447.6 228.0,445.5 229.0,443.4 230.0,441.3 231.0,439.1 232.0,437.0 233.0,434.9 234.0,432.8 235.0,430.6 236.0,428.5 237.0,426.4 238.0,424.3 239.0,422.1 240.0,420.0 241.0,417.9 242.0,415.8 243.0,413.6 244.0,411.5 245.0,409.4 246.0,407.3 247.0,405.2 248.0,403.0 249.0,400.9 250.0,398.8 251.0,396.7 252.0,394.5 253.0,392.4 254.0,390.3 255.0,388.2 256.0,386.0 257.0,383.9 258.0,381.8 259.0,379.6 260.0,377.5 261.0,375.4 262.0,373.2 263.0,371.1 264.0,368.9 265.0,366.8 266.0,364.6 267.0,362.5 268.0,360.3 269.0,358.2 270.0,356.0 271.0,353.8 272.0,351.7 273.0,349.5 274.0,347.3 275.0,345.2 276.0,343.0 277.0,340.8 278.0,338.7 279.0,336.5 280.0,334.3 281.0,332.2 282.0,330.0 283.0,327.8 284.0,325.7 285.0,323.5 286.0,321.3 287.0,319.1 288.0,316.9 289.0,314.7 290.0,312.5 291.0,310.3 292.0,308.1 293.0,305.9 294.0,303.7 295.0,301.5 296.0,299.3 297.0,297.1 298.0,294.8 299.0,292.6 300.0,290.4 301.0,288.2 302.0,286.0 303.0,283.8 304.0,281.6 305.0,279.4 306.0,277.1 307.0,274.9 308.0,272.7 309.0,270.5 310.0,268.3 311.0,266.1 312.0,263.9 313.0,261.7 314.0,259.5 315.0,257.3 316.0,255.1 317.0,253.0 318.0,250.8 319.0,248.6 320.0,246.5 321.0,244.3 322.0,242.2 323.0,240.0 324.0,237.8 325.0,235.7 326.0,233.6 327.0,231.4 328.0,229.3 329.0,227.2 330.0,225.1 331.0,223.0 332.0,220.9 333.0,218.8 334.0,216.7 335.0,214.7 336.0,212.6 337.0,210.6 338.0,208.6 339.0,206.6 340.0,204.5 341.0,202.5 342.0,200.5 343.0,198.5 344.0,196.6 345.0,194.6 346.0,192.6 347.0,190.6 348.0,188.7 349.0,186.8 350.0,184.8 351.0,182.9 352.0,181.0 353.0,179.2 354.0,177.4 355.0,175.6 356.0,173.8 357.0,172.1 358.0,170.3 359.0,168.6 360.0,166.9 361.0,165.3 362.0,163.7 363.0,162.1 364.0,160.6 365.0,159.1 366.0,157.6 367.0,156.2 368.0,154.8 369.0,153.4 370.0,152.1 371.0,150.8 372.0,149.5 373.0,148.3 374.0,147.1 375.0,146.0 376.0,144.9 377.0,143.9 378.0,142.8 379.0,141.8 380.0,140.7 381.0,139.6 382.0,138.5 383.0,137.4 384.0,136.4 385.0,135.3 386.0,134.3 387.0,133.4 388.0,132.4 389.0,131.5 390.0,130.7 391.0,129.9 392.0,129.1 393.0,128.3 394.0,127.5 395.0,126.8 396.0,126.0 397.0,125.3 398.0,124.5 399.0,123.9 400.0,123.2 401.0,122.6 402.0,122.0 403.0,121.4 404.0,120.8 405.0,120.2 406.0,119.6 407.0,119.1 408.0,118.5 409.0,118.0 410.0,117.6 411.0,117.1 412.0,116.7 413.0,116.2 414.0,115.8 415.0,115.4 416.0,115.1 417.0,114.7 418.0,114.4 419.0,114.0 420.0,113.7 421.0,113.4 422.0,113.1 423.0,112.9 424.0,112.6 425.0,112.4 426.0,112.1 427.0,111.9 428.0,111.7 429.0,111.4 430.0,111.2 431.0,111.0 432.0,110.7 433.0,110.5 434.0,110.3 435.0,110.1 436.0,109.8 437.0,109.6 438.0,109.4 439.0,109.2 440.0,109.0 441.0,108.8 442.0,108.6 443.0,108.5 444.0,108.3 445.0,108.1 446.0,108.0 447.0,107.8 448.0,107.7 449.0,107.6 450.0,107.5 451.0,107.3 452.0,107.2 453.0,107.1 454.0,107.0 455.0,107.0 456.0,106.9 457.0,106.8 458.0,106.7 459.0,106.6 460.0,106.6 461.0,106.5 462.0,106.4 463.0,106.4 464.0,106.3 465.0,106.2 466.0,106.2 467.0,106.1 468.0,106.1 469.0,106.0 470.0,106.0 471.0,105.9 472.0,105.9 473.0,105.8 474.0,105.8 475.0,105.7 476.0,105.7 477.0,105.7 478.0,105.6 479.0,105.6 480.0,105.5 481.0,105.5 482.0,105.5 483.0,105.4 484.0,105.4 485.0,105.3 486.0,105.3 487.0,105.3 488.0,105.2 489.0,105.2 490.0,105.2 491.0,105.2 492.0,105.1 493.0,105.1 494.0,105.1 495.0,105.0 496.0,105.0 497.0,105.0 498.0,105.0 499.0,105.0 500.0,104.9 501.0,104.9 502.0,104.9 503.0,104.9 504.0,104.9 505.0,104.8 506.0,104.9 507.0,104.9 508.0,104.9 509.0,105.0 510.0,105.0 511.0,105.0 512.0,105.0 513.0,105.0 514.0,104.9 515.0,104.9 516.0,104.8 517.0,104.8 518.0,104.7 519.0,104.6 520.0,104.3 520.5,104.2 521.0,104.2 521.5,104.1 522.0,104.0 522.5,104.0 523.0,103.9 523.5,103.8 524.0,103.8 524.5,103.7 525.0,103.6 525.5,103.5 526.0,103.5 526.5,103.4 527.0,103.3 527.5,103.2 528.0,103.2 528.5,103.1 529.0,103.0 529.5,102.9 530.0,102.8 530.5,102.8 531.0,102.7 531.5,102.6 532.0,102.5 532.5,102.4 533.0,102.3 533.5,102.2 534.0,102.2 534.5,102.1 535.0,102.0 535.5,101.9 536.0,101.8 536.5,101.7 537.0,101.6 537.5,101.5 538.0,101.4 538.5,101.3 539.0,101.3 539.5,101.2 540.0,101.1 540.5,101.0 541.0,100.9 541.5,100.8 542.0,100.7 542.5,100.6 543.0,100.5 543.5,100.4 544.0,100.3 544.5,100.2 545.0,100.1 545.5,100.1 546.0,100.0 546.5,99.9 547.0,99.8 547.5,99.7 548.0,99.6 548.5,99.5 549.0,99.4 549.5,99.3 550.0,99.2 550.5,99.1 551.0,99.0 551.5,98.9 552.0,98.8 552.5,98.7 553.0,98.6 553.5,98.5 554.0,98.4 554.5,98.4 555.0,98.3 555.5,98.2 556.0,98.1 556.5,98.0 557.0,97.9 557.5,97.8 558.0,97.7 558.5,97.6 559.0,97.5 559.5,97.5 560.0,97.4 560.5,97.3 561.0,97.2 561.5,97.1 562.0,97.0 562.5,96.9 563.0,96.9 563.5,96.8 564.0,96.7 564.5,96.6 565.0,96.5 565.5,96.4 566.0,96.4 566.5,96.3 567.0,96.2 567.5,96.1 568.0,96.0 568.5,96.0 569.0,95.9 569.5,95.8 570.0,95.8 570.5,95.7 571.0,95.6 571.5,95.6 572.0,95.5 572.5,95.4 573.0,95.4 573.5,95.3 574.0,95.3 574.5,95.2 575.0,95.1 575.5,95.1 576.0,95.0 576.5,95.0 577.0,94.9 577.5,94.8 578.0,94.8 578.5,94.7 579.0,94.7 579.5,94.6 580.0,94.5 580.5,94.5 581.0,94.4 581.5,94.4 582.0,94.3 582.5,94.2 583.0,94.2 583.5,94.1 584.0,94.0 584.5,93.9 585.0,93.9 585.5,93.8 586.0,93.7 586.5,93.7 587.0,93.6 587.5,93.5 588.0,93.4 588.5,93.4 589.0,93.3 589.5,93.2 590.0,93.1 590.5,93.0 591.0,93.0 591.5,92.9 592.0,92.8 592.5,92.7 593.0,92.6 593.5,92.5 594.0,92.4 594.5,92.3 595.0,92.2 595.5,92.1 596.0,92.0 596.5,91.9 597.0,91.8 597.5,91.7 598.0,91.6 598.5,91.5 599.0,91.4 599.5,91.2 600.0,91.1 600.5,91.0 601.0,90.9 601.5,90.8 602.0,90.6 602.5,90.5 603.0,90.4 603.5,90.2 604.0,90.1 604.5,90.0 605.0,89.8 605.5,89.7 606.0,89.5 606.5,89.4 607.0,89.3 607.5,89.1 608.0,89.0 608.5,88.8 609.0,88.7 609.5,88.5 610.0,88.4 610.5,88.3 611.0,88.1 611.5,88.0 612.0,87.9 612.5,87.8 613.0,87.6 613.5,87.5 614.0,87.4 614.5,87.3 615.0,87.2 615.5,87.1 616.0,87.0 616.5,86.9 617.0,86.8 617.5,86.7 618.0,86.6 618.5,86.5 619.0,86.5 619.5,86.4 620.0,86.4 620.5,86.3 621.0,86.3 621.5,86.3 622.0,86.2 622.5,86.2 623.0,86.2 623.5,86.2 624.0,86.2 624.5,86.3 625.0,86.3 625.5,86.3 626.0,86.4 626.5,86.4 627.0,86.5 627.5,86.6 628.0,86.6 628.5,86.7 629.0,86.8 629.5,86.9 630.0,87.0 630.5,87.1 631.0,87.2 631.5,87.3 632.0,87.4 632.5,87.6 633.0,87.7 633.5,87.8 634.0,88.0 634.5,88.1 635.0,88.3 635.5,88.4 636.0,88.6 636.5,88.7 637.0,88.9 637.5,89.1 638.0,89.2 638.5,89.4 639.0,89.6 639.5,89.7 640.0,89.9 640.5,90.1 641.0,90.3 641.5,90.4 642.0,90.6 642.5,90.8 643.0,91.0 643.5,91.1 644.0,91.3 644.5,91.5 645.0,91.7 645.5,91.9 646.0,92.1 646.5,92.3 647.0,92.5 647.5,92.8 648.0,93.0 648.5,93.3 649.0,93.5 649.5,93.8 650.0,94.0 650.5,94.2 651.0,94.4 651.5,94.6 652.0,94.7 652.5,94.8 653.0,94.9 653.5,95.0 654.0,95.1 654.5,95.1 655.0,95.1 655.5,95.1 656.0,95.1 656.5,95.1 657.0,95.0 657.5,94.8 658.0,94.6 658.5,94.4 659.0,94.1 659.5,93.8 660.0,93.5 660.5,93.0 661.0,92.6 661.5,92.1 662.0,91.6 662.5,91.1 663.0,90.7 663.5,90.2 664.0,89.7 664.5,89.1 665.0,88.6 665.5,88.0 666.0,87.5 666.5,86.9 667.0,86.3 667.5,85.7 668.0,85.2 668.5,84.6 669.0,84.1 669.5,83.5 670.0,83.0 670.5,82.4 671.0,81.9 671.5,81.4 672.0,80.9 672.5,80.4 673.0,79.9 673.5,79.4 674.0,78.8 674.5,78.3 675.0,77.8 675.5,77.2 676.0,76.7 676.5,76.1 677.0,75.6 677.5,75.0 678.0,74.4 678.5,73.8 679.0,73.2 679.5,72.5 680.0,71.9 680.5,71.3 681.0,70.6 681.5,70.0 682.0,69.4 682.5,68.8 683.0,68.2 683.5,67.6 684.0,67.0 684.5,66.5 685.0,66.0 685.5,65.5 686.0,65.0 686.5,64.5 687.0,64.1 687.5,63.7 688.0,63.3 688.5,63.0 689.0,62.7 689.5,62.4 690.0,62.2 690.5,62.1 691.0,62.0 691.5,61.9 692.0,61.9 692.5,61.9 693.0,62.0 693.5,62.2 694.0,62.4 694.5,62.6 695.0,62.9 695.5,63.2 696.0,63.6 696.5,64.0 697.0,64.5 697.5,65.0 698.0,65.6 698.5,66.2 699.0,66.8 699.5,67.4 700.0,68.1 700.5,68.9 701.0,69.6 701.5,70.4 702.0,71.2 702.5,72.1 703.0,72.9 703.5,73.8 704.0,74.7 704.5,75.7 705.0,76.6 705.5,77.6 706.0,78.6 706.5,79.6 707.0,80.6 707.5,81.6 708.0,82.7 708.5,83.7 709.0,84.8 709.5,85.8 710.0,86.9 710.5,88.0 711.0,89.1 711.5,90.2 712.0,91.2 712.5,92.3 713.0,93.4 713.5,94.5 714.0,95.5 714.5,96.6 715.0,97.7 715.5,98.7 716.0,99.8 716.5,100.8 717.0,101.9 717.5,102.9 718.0,103.9 718.5,104.9 719.0,105.9 719.5,106.9 720.0,107.9 720.5,108.9 721.0,109.8 721.5,110.8 722.0,111.7 722.5,112.7 723.0,113.6 723.5,114.5 724.0,115.4 724.5,116.3 725.0,117.1 725.5,118.0 726.0,118.8 726.5,119.7 727.0,120.5 727.5,121.3 728.0,122.0 728.5,122.8 729.0,123.5 729.5,124.3 730.0,125.0 730.5,125.7 731.0,126.3 731.5,127.0 732.0,127.6 732.5,128.2 733.0,128.7 733.5,129.2 734.0,129.7 734.5,130.2 735.0,130.6 735.5,131.0 736.0,131.4 736.5,131.7 737.0,132.0 737.5,132.2 738.0,132.4 738.5,132.5 739.0,132.6 739.5,132.7 740.0,132.7 740.5,132.6 741.0,132.5 741.5,132.4 742.0,132.1 742.5,131.9 743.0,131.5 743.5,131.1 744.0,130.6 744.5,130.0 745.0,129.4 745.5,128.7 746.0,127.9 746.5,127.0 747.0,126.0 747.5,125.0 748.0,123.8 748.5,122.6 749.0,121.2 749.5,119.8 750.0,118.3 750.5,116.7 751.0,115.1 751.5,113.6 752.0,112.1 752.5,110.7 753.0,109.4 753.5,108.3 754.0,107.3 754.5,106.5 755.0,106.0 755.5,105.7 756.0,105.7 756.5,106.1 757.0,106.8 757.5,107.9 758.0,109.4 758.5,111.3 759.0,113.6 759.5,116.2 760.0,118.9 760.5,121.8 761.0,124.6 761.5,127.5 762.0,130.5 762.5,133.3 763.0,136.1 763.5,138.9 764.0,141.5 764.5,144.1 765.0,146.6 765.5,149.0 766.0,151.3 766.5,153.5 767.0,155.7 767.5,157.8 768.0,159.8 768.5,161.7 769.0,163.6 769.5,165.4 770.0,167.1 770.5,168.8 771.0,170.5 771.5,172.0 772.0,173.6 772.5,175.1 773.0,176.5 773.5,178.0 774.0,179.3 774.5,180.7 775.0,182.0 775.5,183.3 776.0,184.6 776.5,185.9 777.0,187.1 777.5,188.4 778.0,189.6 778.5,190.8 779.0,192.0 779.5,193.1 780.0,194.3 780.5,195.4 781.0,196.6 781.5,197.7 782.0,198.8 782.5,199.9 783.0,201.0 783.5,202.0 784.0,203.1 784.5,204.2 785.0,205.2 785.5,206.3 786.0,207.3 786.5,208.3 787.0,209.3 787.5,210.3 788.0,211.3 788.5,212.3 789.0,213.3 789.5,214.3 790.0,215.3 790.5,216.3 791.0,217.2 791.5,218.2 792.0,219.2 792.5,220.2 793.0,221.1 793.5,222.1 794.0,223.1 794.5,224.0 795.0,225.0 795.5,226.0 796.0,226.9 796.5,227.9 797.0,228.9 797.5,229.9 798.0,230.8 798.5,231.8 799.0,232.8 799.5,233.8 800.0,234.8 800.5,235.8 801.0,236.8 801.5,237.8 802.0,238.9 802.5,239.9 803.0,241.0 803.5,242.0 804.0,243.1 804.5,244.1 805.0,245.2 805.5,246.3 806.0,247.4 806.5,248.5 807.0,249.7 807.5,250.8 808.0,252.0 808.5,253.1 809.0,254.3" fill="none" stroke="#ff4040" stroke-width="2.0" stroke-linejoin="round"/>
</svg>
<rect x="52" y="17" width="756" height="473" fill="none" stroke="#000" stroke-width="2" shape-rendering="crispEdges"/>
<g>
<text transform="translate(45.5 29.7) scale(0.96 0.965)" text-anchor="end">dB</text>
<text transform="translate(45.5 476.6) scale(0.96 0.965)" text-anchor="end">50</text>
<text transform="translate(45.5 397.6) scale(0.96 0.965)" text-anchor="end">60</text>
<text transform="translate(45.5 318.6) scale(0.96 0.965)" text-anchor="end">70</text>
<text transform="translate(45.5 240.6) scale(0.96 0.965)" text-anchor="end">80</text>
<text transform="translate(45.5 161.6) scale(0.96 0.965)" text-anchor="end">90</text>
<text transform="translate(45.5 82.6) scale(0.96 0.965)" text-anchor="end">100</text>
<text transform="translate(140.5 509.6) scale(0.96 0.965)" text-anchor="middle">5</text>
<text transform="translate(207.5 509.6) scale(0.96 0.965)" text-anchor="middle">10</text>
<text transform="translate(274.5 509.6) scale(0.96 0.965)" text-anchor="middle">20</text>
<text transform="translate(363.5 509.6) scale(0.96 0.965)" text-anchor="middle">50</text>
<text transform="translate(430.5 509.6) scale(0.96 0.965)" text-anchor="middle">100</text>
<text transform="translate(496.5 509.6) scale(0.96 0.965)" text-anchor="middle">200</text>
<text transform="translate(585.5 509.6) scale(0.96 0.965)" text-anchor="middle">500</text>
<text transform="translate(652.5 509.6) scale(0.96 0.965)" text-anchor="middle">1k</text>
<text transform="translate(719.5 509.6) scale(0.96 0.965)" text-anchor="middle">2k</text>
<text transform="translate(809.5 509.6) scale(0.96 0.965)" text-anchor="end">Hz</text>
</g>
<g shape-rendering="crispEdges">
<rect x="16" y="529" width="34" height="2" fill="#ff4040"/>
<rect x="138" y="529" width="34" height="2" fill="#408040"/>
<rect x="396" y="529" width="34" height="2" fill="#a0a0a0"/>
</g>
<text transform="translate(60 536.9) scale(1 0.965)">SPL</text>
<text transform="translate(182 536.9) scale(1 0.965)">3rd order Butterworth</text>
<text transform="translate(440.3 536.9) scale(1 0.965)">Parts</text>
</svg>
</body>
</html>
